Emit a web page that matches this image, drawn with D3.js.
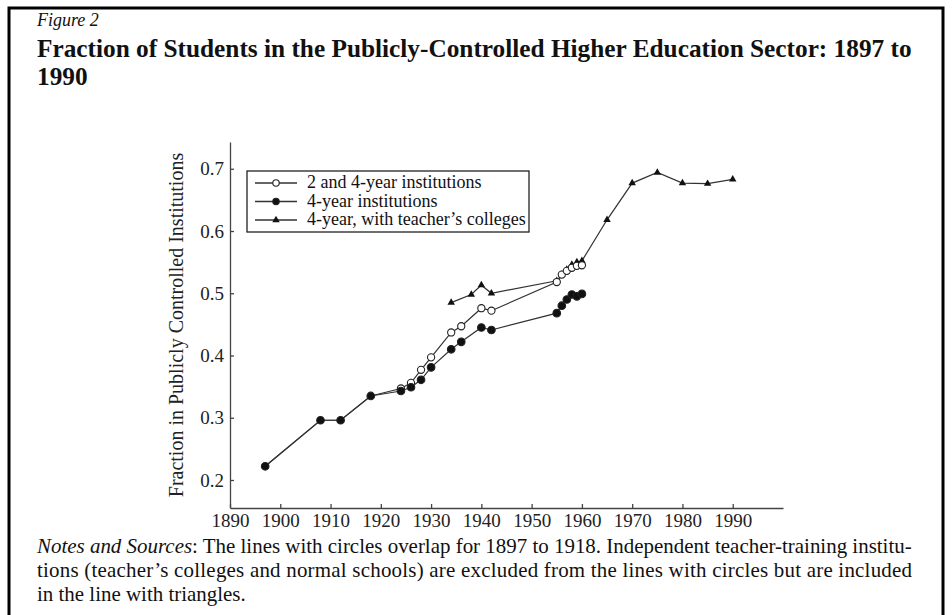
<!DOCTYPE html>
<html lang="en">
<head>
<meta charset="utf-8">
<title>Figure 2</title>
<script src="https://cdn.jsdelivr.net/npm/d3@7"></script>
<style>
body { margin: 0; background: #fff; }
svg text { fill: #111; }
.serif { font-family: "Liberation Serif", "Times New Roman", serif; }
.axis path, .axis line { stroke: #444; stroke-width: 1.3; }
.axis text { font-family: "Liberation Serif", serif; font-size: 19px; fill: #222; }
</style>
</head>
<body>
<script>
/////////////////// Data //////////////
var years4 = [1897, 1908, 1912, 1918, 1924, 1926, 1928, 1930, 1934, 1936, 1940, 1942, 1955, 1956, 1957, 1958, 1959, 1960];
var fourYear = [0.222, 0.296, 0.296, 0.335, 0.343, 0.349, 0.361, 0.381, 0.410, 0.422, 0.445, 0.441, 0.468, 0.480, 0.490, 0.498, 0.495, 0.499];
var twoAndFour = [0.222, 0.296, 0.296, 0.335, 0.347, 0.356, 0.377, 0.397, 0.437, 0.447, 0.476, 0.472, 0.518, 0.530, 0.536, 0.541, 0.544, 0.545];

var yearsTeach = [1934, 1938, 1940, 1942, 1955, 1956, 1957, 1958, 1959, 1960, 1965, 1970, 1975, 1980, 1985, 1990];
var withTeachers = [0.485, 0.498, 0.513, 0.500, 0.520, 0.530, 0.538, 0.546, 0.550, 0.552, 0.618, 0.677, 0.694, 0.677, 0.676, 0.683];

var xTicks = [1890, 1900, 1910, 1920, 1930, 1940, 1950, 1960, 1970, 1980, 1990];
var yTicks = [0.2, 0.3, 0.4, 0.5, 0.6, 0.7];

var legendText = ["2 and 4-year institutions", "4-year institutions", "4-year, with teacher\u2019s colleges"];

var noteLines = [
  "The lines with circles overlap for 1897 to 1918. Independent teacher-training institu-",
  "tions (teacher\u2019s colleges and normal schools) are excluded from the lines with circles but are included",
  "in the line with triangles."
];

/////////////////// Layout //////////////
var width = 952, height = 615;
var mLeft = 230, mRight = 783, mTop = 142, mBottom = 508;

var svg = d3.select("body").append("svg")
    .attr("width", width)
    .attr("height", height);

svg.append("rect").attr("width", width).attr("height", height).attr("fill", "#fff");

// outer frame
svg.append("rect")
    .attr("x", 9).attr("y", 8)
    .attr("width", 934).attr("height", 640)
    .attr("fill", "none")
    .attr("stroke", "#000")
    .attr("stroke-width", 3);

// headings
svg.append("text").attr("class", "serif")
    .attr("x", 37).attr("y", 26)
    .style("font-size", "18px").style("font-style", "italic")
    .text("Figure 2");

var title1 = svg.append("text").attr("class", "serif")
    .attr("x", 37).attr("y", 57)
    .style("font-weight", "bold")
    .style("font-size", "19px")
    .text("Fraction of Students in the Publicly-Controlled Higher Education Sector: 1897 to");
// fit the first title line to the column width
var tw = title1.node().getComputedTextLength();
var titleSize = 19 * 875 / tw;
title1.style("font-size", titleSize + "px");

svg.append("text").attr("class", "serif")
    .attr("x", 37).attr("y", 85)
    .style("font-weight", "bold")
    .style("font-size", titleSize + "px")
    .text("1990");

/////////////////// Scales //////////////
var x = d3.scaleLinear().domain([1890, 2000]).range([mLeft, mRight]);
var y = d3.scaleLinear().domain([0.155, 0.743]).range([mBottom, mTop]);

svg.append("g").attr("class", "axis")
    .attr("transform", "translate(0," + mBottom + ")")
    .call(d3.axisBottom(x).tickValues(xTicks).tickFormat(d3.format("d")).tickSizeInner(-4).tickSizeOuter(0).tickPadding(6));

svg.append("g").attr("class", "axis")
    .attr("transform", "translate(" + mLeft + ",0)")
    .call(d3.axisLeft(y).tickValues(yTicks).tickFormat(d3.format(".1f")).tickSizeInner(-4).tickSizeOuter(0).tickPadding(6));

svg.append("text").attr("class", "serif")
    .attr("transform", "translate(183,325) rotate(-90)")
    .attr("text-anchor", "middle")
    .style("font-size", "20px")
    .style("fill", "#222")
    .text("Fraction in Publicly Controlled Institutions");

/////////////////// Lines //////////////
function series(xs, ys) {
  return xs.map(function(d, i) { return [d, ys[i]]; });
}
var s4 = series(years4, fourYear);
var s24 = series(years4, twoAndFour);
var sT = series(yearsTeach, withTeachers);

var line = d3.line().x(function(d) { return x(d[0]); }).y(function(d) { return y(d[1]); });

[s24, s4, sT].forEach(function(s) {
  svg.append("path")
      .datum(s)
      .attr("d", line)
      .attr("fill", "none")
      .attr("stroke", "#333")
      .attr("stroke-width", 1.2);
});

var tri = d3.symbol().type(d3.symbolTriangle).size(24);

function drawMarkers(g, data, kind) {
  if (kind == "tri") {
    g.selectAll("path.m").data(data).enter().append("path")
        .attr("class", "m")
        .attr("d", tri)
        .attr("transform", function(d) { return "translate(" + x(d[0]) + "," + y(d[1]) + ")"; })
        .attr("fill", "#111");
  } else {
    g.selectAll("circle").data(data).enter().append("circle")
        .attr("cx", function(d) { return x(d[0]); })
        .attr("cy", function(d) { return y(d[1]); })
        .attr("r", kind == "open" ? 3.6 : 3.8)
        .attr("fill", kind == "open" ? "#fff" : "#111")
        .attr("stroke", "#222")
        .attr("stroke-width", 1.1);
  }
}
drawMarkers(svg.append("g"), sT, "tri");
drawMarkers(svg.append("g"), s24.slice(4), "open");
drawMarkers(svg.append("g"), s4, "filled");

/////////////////// Legend //////////////
var lg = svg.append("g").attr("transform", "translate(247,171)");
lg.append("rect")
    .attr("width", 282).attr("height", 61)
    .attr("fill", "#fff")
    .attr("stroke", "#222")
    .attr("stroke-width", 1.3);

var kinds = ["open", "filled", "tri"];
legendText.forEach(function(t, i) {
  var yy = 12 + i * 18.5;
  lg.append("line")
      .attr("x1", 8).attr("x2", 50).attr("y1", yy).attr("y2", yy)
      .attr("stroke", "#333").attr("stroke-width", 1.3);
  if (kinds[i] == "tri") {
    lg.append("path").attr("d", tri).attr("transform", "translate(29," + yy + ")").attr("fill", "#111");
  } else {
    lg.append("circle").attr("cx", 29).attr("cy", yy).attr("r", 3.2)
        .attr("fill", kinds[i] == "open" ? "#fff" : "#111")
        .attr("stroke", "#222").attr("stroke-width", 1.1);
  }
  lg.append("text").attr("class", "serif")
      .attr("x", 60).attr("y", yy + 5)
      .style("font-size", "18px")
      .text(t);
});

/////////////////// Notes //////////////
var n1 = svg.append("text").attr("class", "serif")
    .attr("x", 37).attr("y", 553)
    .style("font-size", "16px");
n1.append("tspan").style("font-style", "italic").text("Notes and Sources");
n1.append("tspan").text(": " + noteLines[0]);
var nw = n1.node().getComputedTextLength();
var noteSize = 16 * 875 / nw;
n1.style("font-size", noteSize + "px");

svg.append("text").attr("class", "serif")
    .attr("x", 37).attr("y", 577)
    .style("font-size", noteSize + "px")
    .attr("textLength", 875)
    .attr("lengthAdjust", "spacing")
    .text(noteLines[1]);

svg.append("text").attr("class", "serif")
    .attr("x", 37).attr("y", 601)
    .style("font-size", noteSize + "px")
    .text(noteLines[2]);
</script>
</body>
</html>
